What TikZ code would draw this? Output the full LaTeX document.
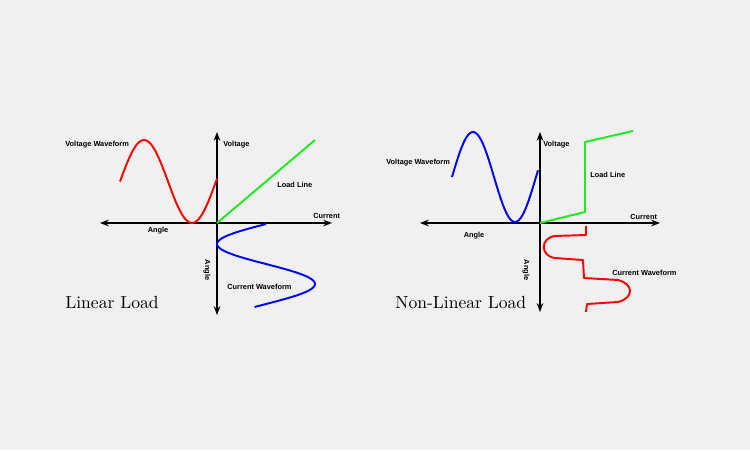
\documentclass[tikz,border=0pt]{standalone}
\usepackage{fontspec}
\setsansfont{Liberation Sans}
\usetikzlibrary{arrows.meta}
\definecolor{bg}{HTML}{F0F0F0}
\definecolor{vgreen}{HTML}{22E822}
\tikzset{axis/.style={
            line width=1pt,
            black,
            {Stealth[length=5pt]}-{Stealth[length=5pt]}},
        wave/.style={
            line width=1.1pt,
            line join=round},
        lbl/.style={
            font=\sffamily\bfseries\fontsize{4.2}{5}\selectfont,
            inner sep=0pt},
        title/.style={
            font=\fontsize{10}{12}\selectfont,
            inner sep=0pt}
    }
\begin{document}
\begin{tikzpicture}[x=0.02cm,y=-0.02cm]
        \fill[bg] (0,0) rectangle (750,450);

        % linear load
        \coordinate (lo) at (217,223);
        \draw[axis] (100,223) -- (332,223);
        \draw[axis] (217,132) -- (217,315);
        \draw[wave,red,domain=120:217,samples=60] plot (\x,{181.5-41.5*sin(3.75*(\x-120))});
        \draw[wave,vgreen] (lo) -- (315,140);
        \draw[wave,blue,domain=224:307,samples=60] plot ({266-49*sin(4.5*(\x-224))},\x);
        \node[lbl,anchor=west] (lvw) at (65,145) {Voltage Waveform};
        \node[lbl,anchor=west] (lv) at (223,145) {Voltage};
        \node[lbl,anchor=west] (ll) at (277,185) {Load Line};
        \node[lbl,anchor=west] (lc) at (313,216) {Current};
        \node[lbl] (la) at (158,231) {Angle};
        \node[lbl,rotate=-90] (lav) at (207,270) {Angle};
        \node[lbl,anchor=west] (lcw) at (227,287) {Current Waveform};
        \node[title,anchor=west] (lt) at (65,302) {Linear Load};

        % non-linear load
        \coordinate (no) at (540,223);
        \draw[axis] (420,223) -- (660,223);
        \draw[axis] (540,132) -- (540,312);
        \draw[wave,blue,domain=452:538,samples=60] plot (\x,{177-45*sin(4.2857*(\x-452))});
        \draw[wave,vgreen] (no) -- (585,212) -- (585,142) -- (633,131);
        \draw[wave,red] (586,226) -- (586,235) -- (555,236)
            .. controls (540,238) and (540,256) .. (555,258) -- (583,260) -- (584,278) -- (618,280)
            .. controls (634,284) and (634,298) .. (618,302) -- (587,304) -- (586,312);
        \node[lbl,anchor=west] (nvw) at (386,163) {Voltage Waveform};
        \node[lbl,anchor=west] (nv) at (543,145) {Voltage};
        \node[lbl,anchor=west] (nl) at (590,175) {Load Line};
        \node[lbl,anchor=west] (nc) at (630,217) {Current};
        \node[lbl] (na) at (474,236) {Angle};
        \node[lbl,rotate=-90] (nav) at (526,270) {Angle};
        \node[lbl,anchor=west] (ncw) at (612,273) {Current Waveform};
        \node[title,anchor=west] (nt) at (395,302) {Non-Linear Load};
    \end{tikzpicture}
\end{document}
